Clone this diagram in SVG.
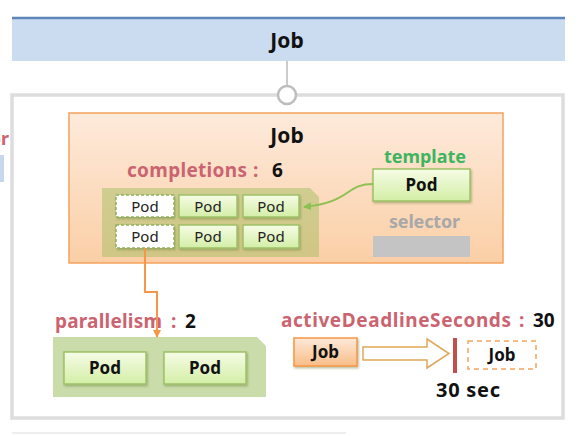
<svg xmlns="http://www.w3.org/2000/svg" width="581" height="436" viewBox="0 0 581 436">
<defs>
<linearGradient id="podG" x1="0" y1="0" x2="0" y2="1"><stop offset="0" stop-color="#f6fce6"/><stop offset="1" stop-color="#d3eea6"/></linearGradient>
<linearGradient id="orgG" x1="0" y1="0" x2="0" y2="1"><stop offset="0" stop-color="#fdeadb"/><stop offset="1" stop-color="#fbcfa6"/></linearGradient>
<linearGradient id="jobG" x1="0" y1="0" x2="0" y2="1"><stop offset="0" stop-color="#fde9d9"/><stop offset="1" stop-color="#f9bd88"/></linearGradient>
<filter id="sh" x="-10%" y="-10%" width="130%" height="140%"><feDropShadow dx="1" dy="1.5" stdDeviation="1" flood-color="#6b7f3a" flood-opacity="0.5"/></filter>
<marker id="ag" markerWidth="8" markerHeight="8" refX="7" refY="4" orient="auto" markerUnits="userSpaceOnUse"><path d="M0,0 L8,4 L0,8 Z" fill="#8cc152"/></marker>
<marker id="ao" markerWidth="8" markerHeight="8" refX="4" refY="7" orient="0" markerUnits="userSpaceOnUse"><path d="M0,0 L8,0 L4,8 Z" fill="#f79646"/></marker>
<style>
text{font-family:"Noto Sans","Open Sans","Liberation Sans",sans-serif}
.b{font-weight:bold}
.red{fill:#cc6370}
.pod{fill:url(#podG);stroke:#9fc267;stroke-width:1.5}
.podw{fill:#ffffff;stroke:#8fb25a;stroke-width:1.5;stroke-dasharray:3 2}
.pt{font-size:15px;fill:#222;text-anchor:middle}
.pb{font-size:17px;font-weight:bold;fill:#111;text-anchor:middle}
</style>
</defs>
<rect width="581" height="436" fill="#ffffff"/>
<!-- cut-off bits on left edge -->
<text x="9" y="145" class="b red" font-size="18" text-anchor="end">or</text>
<rect x="-4" y="155" width="8" height="27" fill="#c7d7ee"/>
<line x1="12" y1="433" x2="346" y2="433" stroke="#eeeeee" stroke-width="2"/>

<g id="top-job">
<rect x="12" y="18" width="553" height="43" fill="#cbdbf0"/>
<line x1="12" y1="18" x2="565" y2="18" stroke="#5f86b8" stroke-width="2.5"/>
<text x="287" y="48" class="b" font-size="21" text-anchor="middle" fill="#111">Job</text>
</g>

<g id="outer-frame">
<rect x="12" y="95" width="551" height="323" fill="#ffffff" stroke="#dddddd" stroke-width="3.5"/>
</g>

<g id="job-spec">
<rect x="69" y="113" width="434" height="150" fill="url(#orgG)" stroke="#f4a25c" stroke-width="1.5"/>
<text x="287" y="143" class="b" font-size="21" text-anchor="middle" fill="#111">Job</text>
<text y="177" class="b" font-size="19"><tspan class="red" x="127" textLength="120" lengthAdjust="spacing">completions</tspan><tspan class="red" x="253">:</tspan><tspan fill="#111" x="272">6</tspan></text>
</g>

<g id="completions-pods">
<path d="M102,188 L310,188 L319,197 L319,257 L102,257 Z" fill="#9bbb59" fill-opacity="0.45"/>
<rect x="116" y="195" width="58" height="22" class="podw" filter="url(#sh)"/>
<rect x="179" y="195" width="58" height="22" class="pod" filter="url(#sh)"/>
<rect x="243" y="195" width="56" height="22" class="pod" filter="url(#sh)"/>
<rect x="116" y="225" width="58" height="23" class="podw" filter="url(#sh)"/>
<rect x="179" y="225" width="58" height="23" class="pod" filter="url(#sh)"/>
<rect x="243" y="225" width="56" height="23" class="pod" filter="url(#sh)"/>
<text x="145" y="212" class="pt">Pod</text>
<text x="208" y="212" class="pt">Pod</text>
<text x="271" y="212" class="pt">Pod</text>
<text x="145" y="242" class="pt">Pod</text>
<text x="208" y="242" class="pt">Pod</text>
<text x="271" y="242" class="pt">Pod</text>
</g>

<g id="template">
<text x="384" y="163" class="b" font-size="18" fill="#3db560" textLength="82" lengthAdjust="spacing">template</text>
<rect x="373" y="169" width="97" height="32" class="pod" filter="url(#sh)"/>
<text x="421.5" y="191" class="b" font-size="17" text-anchor="middle" fill="#111">Pod</text>
</g>

<g id="selector">
<text x="389" y="228" class="b" font-size="18" fill="#a8a8a8" textLength="71" lengthAdjust="spacing">selector</text>
<rect x="373" y="236" width="97" height="21" fill="#c4c4c4"/>
</g>

<g id="parallelism">
<text y="328" class="b" font-size="19"><tspan class="red" x="55" textLength="107" lengthAdjust="spacing">parallelism</tspan><tspan class="red" x="171">:</tspan><tspan fill="#111" x="185">2</tspan></text>
<path d="M53,337 L257,337 L266,346 L266,397 L53,397 Z" fill="#c9dcaa"/>
<rect x="64" y="352" width="82" height="32" class="pod" filter="url(#sh)"/>
<rect x="164" y="352" width="82" height="32" class="pod" filter="url(#sh)"/>
<text x="105" y="374" class="pb">Pod</text>
<text x="205" y="374" class="pb">Pod</text>
</g>

<g id="deadline">
<text y="327" class="b" font-size="19"><tspan class="red" x="281" textLength="230" lengthAdjust="spacing">activeDeadlineSeconds</tspan><tspan class="red" x="519">:</tspan><tspan fill="#111" x="533">30</tspan></text>
<rect x="294" y="338" width="63" height="28" fill="url(#jobG)" stroke="#f79646" stroke-width="1.5" filter="url(#sh)"/>
<text x="325.5" y="358" class="b" font-size="17" text-anchor="middle" fill="#111">Job</text>
<path d="M363,347 L427,347 L427,339 L449,353.5 L427,368 L427,360 L363,360 Z" fill="#ffffff" stroke="#e2a65a" stroke-width="1.5"/>
<rect x="453" y="338" width="4" height="35" fill="#c0504d"/>
<rect x="468" y="341" width="68" height="28" fill="none" stroke="#f4a460" stroke-width="1.5" stroke-dasharray="5 4"/>
<text x="502" y="361" class="b" font-size="17" text-anchor="middle" fill="#111">Job</text>
<text x="436" y="397" class="b" font-size="20" fill="#111" textLength="64" lengthAdjust="spacing">30 sec</text>
</g>

<g id="connectors">
<line x1="287" y1="61" x2="287" y2="86" stroke="#bbbbbb" stroke-width="1.5"/>
<circle cx="287" cy="95" r="9" fill="#ffffff" stroke="#bdbdbd" stroke-width="2.5"/>
<path d="M373,184 C345,184 352,202 304,207" fill="none" stroke="#8cc152" stroke-width="2" marker-end="url(#ag)"/>
<polyline points="145,248 145,292 157,292 157,337" fill="none" stroke="#f79646" stroke-width="2" marker-end="url(#ao)"/>
</g>
</svg>
